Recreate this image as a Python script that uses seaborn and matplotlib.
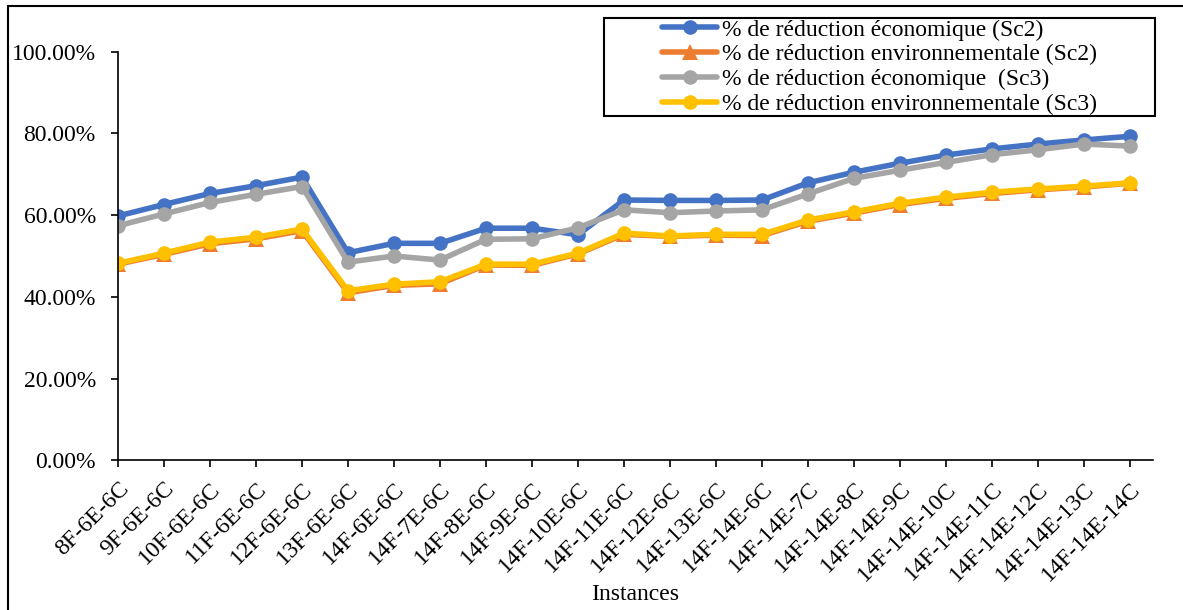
import matplotlib
matplotlib.use("Agg")
import matplotlib.pyplot as plt
import seaborn as sns
import pandas as pd
import numpy as np
from matplotlib.patches import Rectangle
from matplotlib.lines import Line2D
from matplotlib.ticker import PercentFormatter

instances = ["8F-6E-6C", "9F-6E-6C", "10F-6E-6C", "11F-6E-6C", "12F-6E-6C",
             "13F-6E-6C", "14F-6E-6C", "14F-7E-6C", "14F-8E-6C", "14F-9E-6C",
             "14F-10E-6C", "14F-11E-6C", "14F-12E-6C", "14F-13E-6C", "14F-14E-6C",
             "14F-14E-7C", "14F-14E-8C", "14F-14E-9C", "14F-14E-10C", "14F-14E-11C",
             "14F-14E-12C", "14F-14E-13C", "14F-14E-14C"]

eco_sc2 = [59.8, 62.6, 65.3, 67.2, 69.3, 50.8, 53.1, 53.1, 56.8, 56.8,
           55.2, 63.7, 63.6, 63.6, 63.7, 67.9, 70.5, 72.7, 74.7, 76.2,
           77.4, 78.4, 79.3]
env_sc2 = [48.0, 50.4, 53.0, 54.2, 56.2, 41.0, 42.8, 43.2, 47.8, 47.7,
           50.5, 55.3, 54.8, 55.1, 55.0, 58.5, 60.5, 62.6, 64.1, 65.3,
           66.2, 66.9, 67.8]
eco_sc3 = [57.4, 60.3, 63.1, 65.1, 67.0, 48.5, 50.0, 49.0, 54.1, 54.2,
           56.9, 61.3, 60.6, 61.0, 61.3, 65.2, 69.0, 71.0, 72.9, 74.8,
           76.0, 77.4, 76.9]
env_sc3 = [48.2, 50.7, 53.4, 54.6, 56.6, 41.5, 43.1, 43.7, 48.0, 48.0,
           50.7, 55.6, 54.9, 55.3, 55.3, 58.8, 60.8, 62.9, 64.4, 65.6,
           66.4, 67.1, 67.9]

labels = ["% de réduction économique (Sc2)",
          "% de réduction environnementale (Sc2)",
          "% de réduction économique  (Sc3)",
          "% de réduction environnementale (Sc3)"]
colors = ["#4472C4", "#ED7D31", "#A5A5A5", "#FFC000"]
markers = ["o", "^", "o", "o"]

sns.set_theme(style="white")
plt.rcParams['font.family'] = ['Liberation Serif', 'DejaVu Serif']
plt.rcParams['mathtext.default'] = 'regular'

FS = 17

fig = plt.figure(figsize=(11.83, 6.10), dpi=100)
W, H = 1183, 610
x0, x1 = 118, 1153
y0, y1 = 460.3, 51.7
ax = fig.add_axes([x0 / W, 1 - y0 / H, (x1 - x0) / W, (y0 - y1) / H])

pos = np.arange(len(instances))
for vals, lab, col, mk in zip([eco_sc2, env_sc2, eco_sc3, env_sc3], labels, colors, markers):
    df = pd.DataFrame({"x": pos, "y": vals})
    sns.lineplot(data=df, x="x", y="y", ax=ax, color=col, marker=mk,
                 markersize=10.5 if mk == "o" else 11, markeredgewidth=0,
                 linewidth=4.0, label=lab, sort=False)

ax.set_xlim(0, 22.5)
ax.set_ylim(0, 100)
ax.set_yticks(np.arange(0, 101, 20))
ax.yaxis.set_major_formatter(PercentFormatter(decimals=2))
ax.set_xticks(pos)
ax.set_xticklabels(instances, rotation=45, ha="right", va="top", rotation_mode="anchor")
ax.tick_params(axis="both", which="major", labelsize=FS, direction="out",
               length=5, width=1.2, color="black", labelcolor="black",
               bottom=True, left=True)
ax.tick_params(axis="y", pad=11)
ax.tick_params(axis="x", pad=8)
for s in ["top", "right"]:
    ax.spines[s].set_visible(False)
for s in ["left", "bottom"]:
    ax.spines[s].set_color("black")
    ax.spines[s].set_linewidth(1.2)
ax.set_ylabel("")
ax.set_xlabel("Instances", fontsize=FS, color="black", labelpad=-1)
ax.grid(False)

# legend
leg = ax.legend(loc="upper left", bbox_to_anchor=(662 / W, 1 - 19 / H),
                bbox_transform=fig.transFigure, frameon=False, fontsize=FS,
                handlelength=2.35, handletextpad=0.2, labelspacing=0.14,
                borderpad=0.0, borderaxespad=0)
for t in leg.get_texts():
    t.set_color("black")

fig.add_artist(Rectangle((604 / W, 1 - 116 / H), (1155 - 604) / W, (116 - 18) / H,
                         transform=fig.transFigure, fill=False, edgecolor="black",
                         linewidth=1.5))

# outer chart border (left and top edges)
fig.add_artist(Line2D([8 / W, 8 / W], [0, 1 - 6 / H], transform=fig.transFigure,
                      color="black", linewidth=1.5))
fig.add_artist(Line2D([8 / W, 1], [1 - 6 / H, 1 - 6 / H], transform=fig.transFigure,
                      color="black", linewidth=1.5))

fig.savefig("out.png", dpi=100)
